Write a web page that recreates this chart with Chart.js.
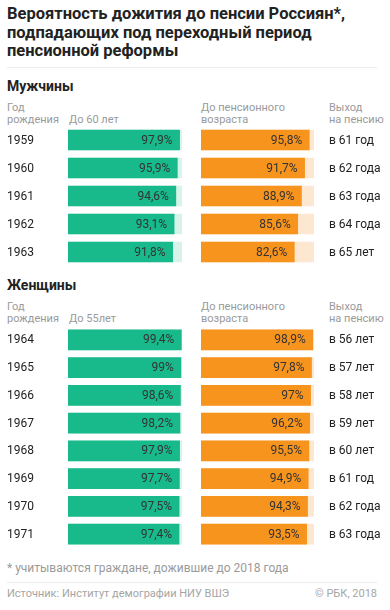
<!DOCTYPE html>
<html lang="ru">
<head>
<meta charset="utf-8">
<script src="https://cdn.jsdelivr.net/npm/chart.js@4"></script>
<style>
  body { margin: 0; background: #fff; font-family: Roboto, "Noto Sans", sans-serif; color: #222; }
  #page { position: relative; width: 390px; height: 610px; overflow: hidden; }
  .t { position: absolute; white-space: nowrap; }
  .title { left: 7px; top: 5px; font-size: 16.5px; font-weight: 700; line-height: 18.5px; color: #222; }
  .section { left: 7px; font-size: 14px; font-weight: 700; color: #222; }
  .head { font-size: 11px; line-height: 12px; color: #9a9a9a; }
  .rule { position: absolute; left: 7px; width: 370px; height: 1px; background: #ececec; }
  .box { position: absolute; }
  .note { left: 7px; top: 561px; font-size: 12px; color: #9a9a9a; }
  .src { top: 587px; font-size: 11px; color: #a5a5a5; }
</style>
</head>
<body>
<div id="page">
  <div class="t title">Вероятность дожития до пенсии Россиян*,<br>подпадающих под переходный период<br>пенсионной реформы</div>
  <div class="rule" style="top:67px"></div>

  <div class="t section" style="top:78px">Мужчины</div>
  <div class="t head" style="left:7px;top:102px">Год<br>рождения</div>
  <div class="t head" style="left:69px;top:114px">До 60 лет</div>
  <div class="t head" style="left:201px;top:102px">До пенсионного<br>возраста</div>
  <div class="t head" style="left:329px;top:102px">Выход<br>на пенсию</div>
  <div class="box" style="left:7px;top:126px;width:175px;height:140px"><canvas id="menLeft"></canvas></div>
  <div class="box" style="left:201px;top:126px;width:189px;height:140px"><canvas id="menRight"></canvas></div>

  <div class="t section" style="top:277px">Женщины</div>
  <div class="t head" style="left:7px;top:301px">Год<br>рождения</div>
  <div class="t head" style="left:69px;top:313px">До 55лет</div>
  <div class="t head" style="left:201px;top:301px">До пенсионного<br>возраста</div>
  <div class="t head" style="left:329px;top:301px">Выход<br>на пенсию</div>
  <div class="box" style="left:7px;top:326px;width:175px;height:222px"><canvas id="womenLeft"></canvas></div>
  <div class="box" style="left:201px;top:326px;width:189px;height:222px"><canvas id="womenRight"></canvas></div>

  <div class="t note">* учитываются граждане, дожившие до 2018 года</div>
  <div class="rule" style="top:582px"></div>
  <div class="t src" style="left:7px">Источник: Институт демографии НИУ ВШЭ</div>
  <div class="t src" style="right:13px">© РБК, 2018</div>
</div>

<script>
// MEN
const menYears = ["1959", "1960", "1961", "1962", "1963"];
const menTo60 = [97.9, 95.9, 94.6, 93.1, 91.8];
const menToPension = [95.8, 91.7, 88.9, 85.6, 82.6];
const menRetire = ["в 61 год", "в 62 года", "в 63 года", "в 64 года", "в 65 лет"];

// WOMEN
const womenYears = ["1964", "1965", "1966", "1967", "1968", "1969", "1970", "1971"];
const womenTo55 = [99.4, 99, 98.6, 98.2, 97.9, 97.7, 97.5, 97.4];
const womenToPension = [98.9, 97.8, 97, 96.2, 95.5, 94.9, 94.3, 93.5];
const womenRetire = ["в 56 лет", "в 57 лет", "в 58 лет", "в 59 лет", "в 60 лет", "в 61 год", "в 62 года", "в 63 года"];

const GREEN = "#18b98a";
const GREEN_BG = "#d8f3e9";
const ORANGE = "#f7941e";
const ORANGE_BG = "#fde7d0";

function fmt(v) {
  return String(v).replace(".", ",") + "%";
}

// value text at the end of each bar + row labels beside the bars
const rowLabels = {
  id: "rowLabels",
  afterDatasetsDraw(chart, args, opts) {
    const ctx = chart.ctx;
    const meta = chart.getDatasetMeta(1);
    const data = chart.data.datasets[1].data;
    const yScale = chart.scales.y;
    const area = chart.chartArea;
    ctx.save();
    ctx.textBaseline = "middle";

    ctx.font = "12px Roboto";
    ctx.fillStyle = "#333";
    ctx.textAlign = "right";
    meta.data.forEach((bar, i) => {
      ctx.fillText(fmt(data[i]), bar.x - 7, bar.y + 0.5);
    });

    ctx.font = "12px Roboto";
    ctx.fillStyle = "#222";
    ctx.textAlign = "left";
    opts.labels.forEach((txt, i) => {
      const y = yScale.getPixelForValue(i);
      const x = opts.side === "left" ? 0 : area.right + 15;
      ctx.fillText(txt, x, y + 0.5);
    });
    ctx.restore();
  }
};

function makeChart(id, labels, values, color, bg, side, sideLabels) {
  const ctx = document.getElementById(id).getContext("2d");
  return new Chart(ctx, {
    type: "bar",
    data: {
      labels: labels,
      datasets: [
        { data: labels.map(() => 100), backgroundColor: bg, grouped: false, order: 2, barThickness: 20 },
        { data: values, backgroundColor: color, grouped: false, order: 1, barThickness: 20 }
      ]
    },
    options: {
      indexAxis: "y",
      responsive: true,
      maintainAspectRatio: false,
      animation: false,
      layout: {
        autoPadding: false,
        padding: side === "left" ? { left: 61, right: 0, top: 0, bottom: 0 } : { left: 0, right: 76, top: 0, bottom: 0 }
      },
      plugins: {
        legend: { display: false },
        tooltip: { enabled: false },
        rowLabels: { side: side, labels: sideLabels }
      },
      scales: {
        x: { display: false, min: 0, max: 100 },
        y: { display: false }
      }
    },
    plugins: [rowLabels]
  });
}

makeChart("menLeft", menYears, menTo60, GREEN, GREEN_BG, "left", menYears);
makeChart("menRight", menYears, menToPension, ORANGE, ORANGE_BG, "right", menRetire);
makeChart("womenLeft", womenYears, womenTo55, GREEN, GREEN_BG, "left", womenYears);
makeChart("womenRight", womenYears, womenToPension, ORANGE, ORANGE_BG, "right", womenRetire);
</script>
</body>
</html>
